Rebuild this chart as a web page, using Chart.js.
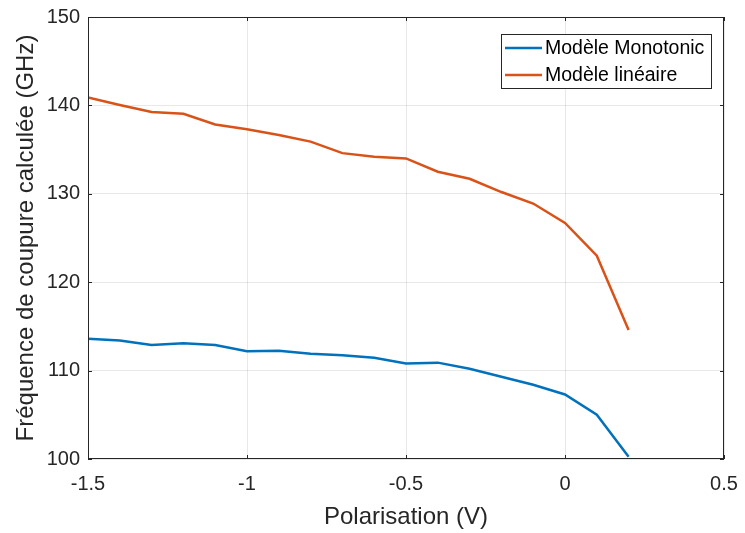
<!DOCTYPE html>
<html><head><meta charset="utf-8">
<script src="https://cdn.jsdelivr.net/npm/chart.js@4"></script>
<style>html,body{margin:0;padding:0;background:#fff}#w{width:745px;height:533px}</style>
</head><body><div id="w"><canvas id="c" width="745" height="533"></canvas></div>
<script>
const polarisation = [-1.5,-1.4,-1.3,-1.2,-1.1,-1.0,-0.9,-0.8,-0.7,-0.6,-0.5,-0.4,-0.3,-0.2,-0.1,0,0.1,0.2];
const monotonic = [113.6,113.4,112.9,113.1,112.9,112.2,112.25,111.9,111.75,111.45,110.8,110.9,110.2,109.3,108.4,107.3,105.0,100.25];
const lineaire = [140.9,140.05,139.25,139.05,137.85,137.3,136.65,135.9,134.6,134.2,134.0,132.5,131.7,130.2,128.9,126.7,123.0,114.6];
const seriesLabels = ["Modèle Monotonic","Modèle linéaire"];
const xTicks = [-1.5,-1,-0.5,0,0.5];
const yTicks = [100,110,120,130,140,150];
const xTitle = "Polarisation (V)";
const yTitle = "Fréquence de coupure calculée (GHz)";

const FONT = "'Liberation Sans', Arial, sans-serif";
const AX = '#262626';
const pts = v => polarisation.map((x,i)=>({x, y:v[i]}));

const boxPlugin = {
  id:'box',
  afterDraw(chart){
    const {ctx, chartArea:a, scales:{x,y}} = chart;
    ctx.save();
    ctx.strokeStyle = AX; ctx.lineWidth = 1;
    ctx.strokeRect(a.left+0.5, a.top+0.5, a.right-a.left-1, a.bottom-a.top-1);
    ctx.beginPath();
    const tl = 4;
    xTicks.forEach(t=>{const px=Math.round(x.getPixelForValue(t))+0.5; ctx.moveTo(px,a.bottom); ctx.lineTo(px,a.bottom-tl); ctx.moveTo(px,a.top); ctx.lineTo(px,a.top+tl);});
    yTicks.forEach(t=>{const py=Math.round(y.getPixelForValue(t))+0.5; ctx.moveTo(a.left,py); ctx.lineTo(a.left+tl,py); ctx.moveTo(a.right,py); ctx.lineTo(a.right-tl,py);});
    ctx.stroke();
    // legend
    const lx=501, ly=34, lw=210, lh=54;
    ctx.fillStyle='#fff'; ctx.fillRect(lx,ly,lw,lh);
    ctx.strokeStyle=AX; ctx.strokeRect(lx+0.5,ly+0.5,lw,lh);
    ctx.font = "19.5px "+FONT; ctx.textBaseline='middle'; ctx.textAlign='left';
    chart.data.datasets.forEach((d,i)=>{
      const yy = ly+14+i*27;
      ctx.strokeStyle=d.borderColor; ctx.lineWidth=2.5;
      ctx.beginPath(); ctx.moveTo(lx+4,yy); ctx.lineTo(lx+41,yy); ctx.stroke();
      ctx.fillStyle='#000'; ctx.fillText(d.label, lx+44, yy+1);
    });
    ctx.restore();
  }
};

new Chart(document.getElementById('c'), {
  type:'line',
  data:{datasets:[
    {label:seriesLabels[0], data:pts(monotonic), borderColor:'#0072BD', borderWidth:2.5, pointRadius:0, tension:0, fill:false},
    {label:seriesLabels[1], data:pts(lineaire), borderColor:'#D95319', borderWidth:2.5, pointRadius:0, tension:0, fill:false}
  ]},
  options:{
    responsive:false, animation:false, devicePixelRatio:1,
    layout:{padding:{top:17,right:21,left:0,bottom:0}},
    plugins:{legend:{display:false}, tooltip:{enabled:false}},
    scales:{
      x:{type:'linear', min:-1.5, max:0.5,
        afterBuildTicks: s=>{s.ticks = xTicks.map(v=>({value:v}));},
        afterFit: s=>{s.height=74; s.paddingLeft=0; s.paddingRight=0;},
        grid:{color:'rgba(0,0,0,0.09)', drawTicks:false},
        border:{display:false},
        ticks:{padding:13, color:'#262626', font:{size:20, family:FONT}, maxRotation:0, callback:v=>String(v)},
        title:{display:true, text:xTitle, color:'#262626', font:{size:24, family:FONT}, padding:{top:1,bottom:1}}
      },
      y:{min:100, max:150,
        afterBuildTicks: s=>{s.ticks = yTicks.map(v=>({value:v}));},
        afterFit: s=>{s.width=88; s.paddingTop=0; s.paddingBottom=0;},
        grid:{color:'rgba(0,0,0,0.09)', drawTicks:false},
        border:{display:false},
        ticks:{padding:8, color:'#262626', font:{size:20, family:FONT}, callback:v=>String(v)},
        title:{display:true, text:yTitle, color:'#262626', font:{size:24, family:FONT}, padding:{top:12,bottom:12}}
      }
    }
  },
  plugins:[boxPlugin]
});
</script></body></html>
